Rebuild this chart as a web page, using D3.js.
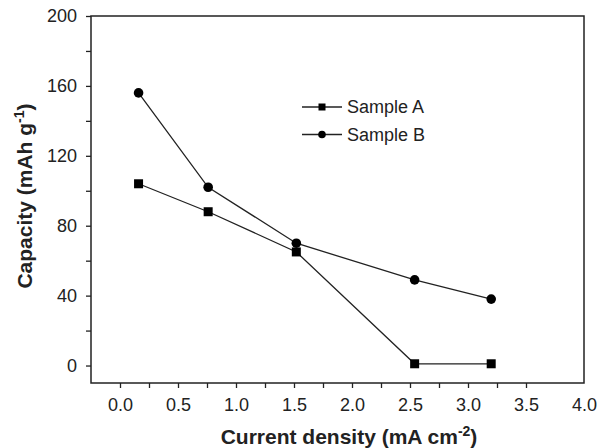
<!DOCTYPE html>
<html><head><meta charset="utf-8">
<script src="https://cdn.jsdelivr.net/npm/d3@7"></script>
<style>body{margin:0;background:#fff}svg{display:block}text{font-family:"Liberation Sans",Arial,sans-serif;fill:#222}</style>
</head><body><svg id="c" width="597" height="448"></svg>
<script>
const currentDensity = [0.16, 0.76, 1.52, 2.54, 3.20];
const sampleA = [104, 88, 65, 1, 1];
const sampleB = [156, 102, 70, 49, 38];
const seriesNames = ["Sample A", "Sample B"];
const xTickLabels = [0, 0.5, 1.0, 1.5, 2.0, 2.5, 3.0, 3.5, 4.0];
const yTickLabels = [0, 40, 80, 120, 160, 200];

const svg = d3.select("#c");
const L = 91, R = 584, T = 16, B = 383;
const x = d3.scaleLinear().domain([-0.25, 4.0]).range([L, R]);
const y = d3.scaleLinear().domain([-10, 200]).range([B, T]);
const ink = "#222";
const FF = '"Liberation Sans",Arial,sans-serif';

// frame
svg.append("rect").attr("x", L).attr("y", T).attr("width", R - L).attr("height", B - T)
  .attr("fill", "none").attr("stroke", ink).attr("stroke-width", 1.5);

// x axis
const xMinor = d3.range(0, 16).map(i => -0.25 + i * 0.25).filter(v => v > -0.25 && v < 4.0);
const xa = svg.append("g").attr("transform", `translate(0,${B})`)
  .call(d3.axisBottom(x).tickValues(xMinor).tickSize(5).tickFormat(""));
xa.select(".domain").remove();
xa.selectAll("line").attr("stroke", ink).attr("stroke-width", 1.3);
const xl = svg.append("g").attr("transform", `translate(0,${B})`)
  .call(d3.axisBottom(x).tickValues(xTickLabels).tickSize(0).tickPadding(15).tickFormat(d3.format(".1f")));
xl.select(".domain").remove();
xl.selectAll("text").attr("font-size", 18).attr("fill", ink).attr("font-family", FF);

// y axis
const yMinor = d3.range(0, 201, 20);
const ya = svg.append("g").attr("transform", `translate(${L},0)`)
  .call(d3.axisLeft(y).tickValues(yMinor).tickSize(5).tickFormat(""));
ya.select(".domain").remove();
ya.selectAll("line").attr("stroke", ink).attr("stroke-width", 1.3);
const yl = svg.append("g").attr("transform", `translate(${L},0)`)
  .call(d3.axisLeft(y).tickValues(yTickLabels).tickSize(0).tickPadding(14));
yl.select(".domain").remove();
yl.selectAll("text").attr("font-size", 18).attr("fill", ink).attr("font-family", FF);

// titles
const xt = svg.append("text").attr("x", 349).attr("y", 444).attr("text-anchor", "middle")
  .attr("font-size", 21).attr("font-weight", "bold");
xt.append("tspan").text("Current density (mA cm");
xt.append("tspan").attr("dy", -8).attr("font-size", 14).text("-2");
xt.append("tspan").attr("dy", 8).text(")");

const yt = svg.append("text").attr("transform", `translate(32,196) rotate(-90)`)
  .attr("text-anchor", "middle").attr("font-size", 21).attr("font-weight", "bold");
yt.append("tspan").text("Capacity (mAh g");
yt.append("tspan").attr("dy", -8).attr("font-size", 14).text("-1");
yt.append("tspan").attr("dy", 8).text(")");

// series
const data = [sampleA, sampleB];
const line = d3.line().x((d, i) => x(currentDensity[i])).y(d => y(d));
data.forEach((s, k) => {
  svg.append("path").datum(s).attr("d", line).attr("fill", "none").attr("stroke", ink).attr("stroke-width", 1.3);
  const g = svg.append("g");
  s.forEach((v, i) => {
    if (k === 0) g.append("rect").attr("x", x(currentDensity[i]) - 4.5).attr("y", y(v) - 4.5)
      .attr("width", 9).attr("height", 9).attr("fill", "#000");
    else g.append("circle").attr("cx", x(currentDensity[i])).attr("cy", y(v)).attr("r", 4.8).attr("fill", "#000");
  });
});

// legend
seriesNames.forEach((n, k) => {
  const ly = 107 + k * 27.5;
  svg.append("line").attr("x1", 302).attr("x2", 342).attr("y1", ly).attr("y2", ly).attr("stroke", ink).attr("stroke-width", 1.3);
  if (k === 0) svg.append("rect").attr("x", 318.5).attr("y", ly - 3.5).attr("width", 7).attr("height", 7).attr("fill", "#000");
  else svg.append("circle").attr("cx", 322).attr("cy", ly).attr("r", 3.8).attr("fill", "#000");
  svg.append("text").attr("x", 347).attr("y", ly + 6).attr("font-size", 18).text(n);
});
</script></body></html>
